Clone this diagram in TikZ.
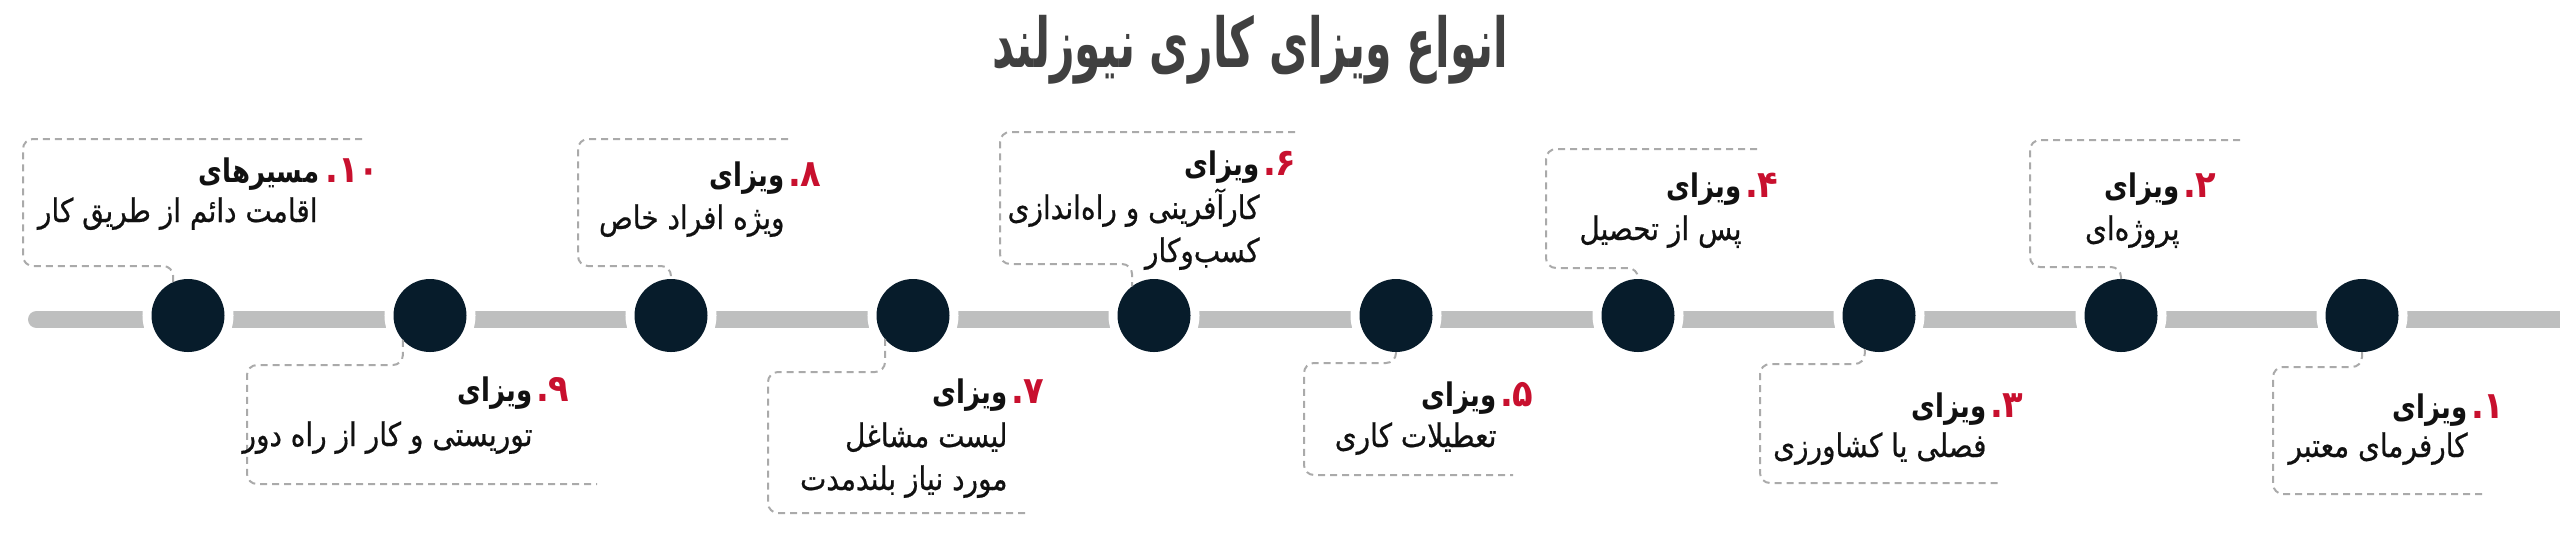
\documentclass[tikz,border=0pt]{standalone}
\usepackage{fontspec}
\usepackage{tikz}
\usetikzlibrary{positioning}
\TeXXeTstate=1
\newfontfamily\fafont[Script=Arabic, FakeStretch=0.86, FakeBold=0.6]{DejaVu Sans}
\newfontfamily\faheadfont[Script=Arabic, FakeStretch=0.8]{DejaVu Sans}
\newfontfamily\fanumfont[Script=Arabic, FakeStretch=0.9]{DejaVu Sans}
\newfontfamily\fatitlefont[Script=Arabic, FakeStretch=0.62]{DejaVu Sans}

\definecolor{visared}{RGB}{200,16,46}
\definecolor{dotnavy}{RGB}{7,28,43}
\definecolor{bargray}{RGB}{190,191,191}
\definecolor{dashgray}{RGB}{170,170,170}
\definecolor{titlegray}{RGB}{64,64,64}
\definecolor{inkblack}{RGB}{17,17,17}

\begin{document}
\begin{tikzpicture}[
  x=0.4pt, y=-0.4pt,
  vtitle/.style={font=\fatitlefont\bfseries\fontsize{27.5}{32}\selectfont, text=titlegray, inner sep=0pt},
  vhead/.style={font=\faheadfont\bfseries\fontsize{13}{17}\selectfont, text=inkblack, inner sep=0pt},
  vnum/.style={font=\fanumfont\bfseries\fontsize{15}{17}\selectfont, text=visared, inner sep=0pt},
  vdesc/.style={font=\fafont\fontsize{13}{17.2}\selectfont, text=inkblack, align=right, inner sep=0pt},
  visadot/.style={circle, fill=dotnavy, minimum size=29.2pt, inner sep=0pt, outer sep=0pt,
                  preaction={draw=white, line width=7.2pt}},
  timeline/.style={draw=bargray, line width=6.8pt, line cap=round},
  bubble/.style={draw=dashgray, line width=0.8pt, dash pattern=on 2.8pt off 2pt, rounded corners=4pt}
]
\useasboundingbox (0,0) rectangle (2560,556);

\node[vtitle, anchor=base] (title) at (1250,67) {\beginR انواع ویزای کاری نیوزلند\endR};

% timeline
\coordinate (barL) at (36.5,319.5);
\coordinate (barR) at (2575,319.5);
\draw[timeline] (barL) -- (barR);

\node[visadot] (v10) at (188,315.5) {};
\node[visadot] (v9) at (430,315.5) {};
\node[visadot] (v8) at (671,315.5) {};
\node[visadot] (v7) at (913,315.5) {};
\node[visadot] (v6) at (1154,315.5) {};
\node[visadot] (v5) at (1396,315.5) {};
\node[visadot] (v4) at (1638,315.5) {};
\node[visadot] (v3) at (1879,315.5) {};
\node[visadot] (v2) at (2121,315.5) {};
\node[visadot] (v1) at (2362,315.5) {};

% callouts above the line
\draw[bubble] (362,139) -- (23,139) -- (23,266) -- (v10.114 |- 0,266) -- (v10.114);
\draw[bubble] (788,139) -- (578,139) -- (578,266) -- (v8.north |- 0,266) -- (v8.north);
\draw[bubble] (1295,132) -- (1000,132) -- (1000,264) -- (v6.127 |- 0,264) -- (v6.127);
\draw[bubble] (1757,149) -- (1546,149) -- (1546,268) -- (v4.north |- 0,268) -- (v4.north);
\draw[bubble] (2240,140) -- (2030,140) -- (2030,267) -- (v2.north |- 0,267) -- (v2.north);

% callouts below the line
\draw[bubble] (v9.222) -- (v9.222 |- 0,365) -- (247,365) -- (247,484) -- (597,484);
\draw[bubble] (v7.220) -- (v7.220 |- 0,372) -- (768,372) -- (768,513) -- (1030,513);
\draw[bubble] (v5.south) -- (v5.south |- 0,363) -- (1304,363) -- (1304,475) -- (1513,475);
\draw[bubble] (v3.247) -- (v3.247 |- 0,364) -- (1760,364) -- (1760,483) -- (1998,483);
\draw[bubble] (v1.south) -- (v1.south |- 0,367) -- (2273,367) -- (2273,494) -- (2482,494);

% texts
\node[vhead, anchor=base east] (h10) at (320,182) {\beginR مسیرهای\endR};
\node[vnum, anchor=base west] (n10) at ([xshift=2pt]h10.base east) {۱۰.};
\node[vdesc, anchor=base east] (d10) at (318,222) {\beginR اقامت دائم از طریق کار\endR};

\node[vhead, anchor=base east] (h8) at (785,186) {\beginR ویزای\endR};
\node[vnum, anchor=base west] (n8) at ([xshift=1pt]h8.base east) {۸.};
\node[vdesc, anchor=base east] (d8) at (785,229) {\beginR ویژه افراد خاص\endR};

\node[vhead, anchor=base east] (h6) at (1260,175) {\beginR ویزای\endR};
\node[vnum, anchor=base west] (n6) at ([xshift=1pt]h6.base east) {۶.};
\node[vdesc, anchor=base east] (d6) at (1260,262) {\beginR کارآفرینی و راه‌اندازی\endR\\\beginR کسب‌وکار\endR};

\node[vhead, anchor=base east] (h4) at (1742,197) {\beginR ویزای\endR};
\node[vnum, anchor=base west] (n4) at ([xshift=1pt]h4.base east) {۴.};
\node[vdesc, anchor=base east] (d4) at (1742,240) {\beginR پس از تحصیل\endR};

\node[vhead, anchor=base east] (h2) at (2180,197) {\beginR ویزای\endR};
\node[vnum, anchor=base west] (n2) at ([xshift=1pt]h2.base east) {۲.};
\node[vdesc, anchor=base east] (d2) at (2180,240) {\beginR پروژه‌ای\endR};

\node[vhead, anchor=base east] (h9) at (533,401) {\beginR ویزای\endR};
\node[vnum, anchor=base west] (n9) at ([xshift=1pt]h9.base east) {۹.};
\node[vdesc, anchor=base east] (d9) at (533,446) {\beginR توریستی و کار از راه دور\endR};

\node[vhead, anchor=base east] (h7) at (1008,403) {\beginR ویزای\endR};
\node[vnum, anchor=base west] (n7) at ([xshift=1pt]h7.base east) {۷.};
\node[vdesc, anchor=base east] (d7) at (1008,490) {\beginR لیست مشاغل\endR\\\beginR مورد نیاز بلندمدت\endR};

\node[vhead, anchor=base east] (h5) at (1497,406) {\beginR ویزای\endR};
\node[vnum, anchor=base west] (n5) at ([xshift=1pt]h5.base east) {۵.};
\node[vdesc, anchor=base east] (d5) at (1497,447) {\beginR تعطیلات کاری\endR};

\node[vhead, anchor=base east] (h3) at (1987,417) {\beginR ویزای\endR};
\node[vnum, anchor=base west] (n3) at ([xshift=1pt]h3.base east) {۳.};
\node[vdesc, anchor=base east] (d3) at (1987,457) {\beginR فصلی یا کشاورزی\endR};

\node[vhead, anchor=base east] (h1) at (2468,418) {\beginR ویزای\endR};
\node[vnum, anchor=base west] (n1) at ([xshift=1pt]h1.base east) {۱.};
\node[vdesc, anchor=base east] (d1) at (2468,457) {\beginR کارفرمای معتبر\endR};
\end{tikzpicture}
\end{document}
